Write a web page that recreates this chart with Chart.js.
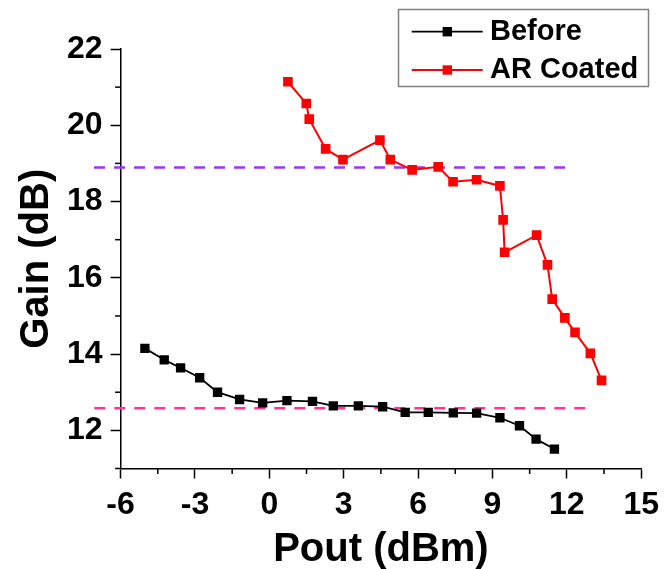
<!DOCTYPE html>
<html><head><meta charset="utf-8">
<script src="https://cdn.jsdelivr.net/npm/chart.js@4.4.1/dist/chart.umd.min.js"></script>
<style>html,body{margin:0;padding:0;background:#fff;}#wrap{width:666px;height:569px;position:relative;}</style>
</head><body><div id="wrap"><canvas id="c" width="666" height="569"></canvas></div>
<script>
// ---- data ----
const beforeX = [-5.02,-4.24,-3.58,-2.81,-2.09,-1.20,-0.27,0.71,1.74,2.58,3.59,4.57,5.48,6.41,7.42,8.36,9.30,10.09,10.76,11.50];
const beforeY = [14.15,13.85,13.64,13.38,13.00,12.81,12.72,12.78,12.76,12.64,12.64,12.62,12.47,12.47,12.46,12.45,12.33,12.12,11.77,11.51];
const arX = [0.75,1.49,1.61,2.27,2.97,4.46,4.88,5.76,6.81,7.41,8.36,9.30,9.43,9.49,10.78,11.22,11.41,11.92,12.33,12.95,13.40];
const arY = [21.14,20.57,20.16,19.38,19.10,19.61,19.10,18.83,18.91,18.52,18.57,18.41,17.52,16.67,17.12,16.34,15.44,14.95,14.57,14.02,13.31];
const refUpperY = 18.89;
const refUpperX = [-7.07, 12.2];
const refLowerY = 12.58;
const refLowerX = [-7.06, 12.75];
const xTicks = [-6,-3,0,3,6,9,12,15];
const xMinor = [-4.5,-1.5,1.5,4.5,7.5,10.5,13.5];
const yTicks = [12,14,16,18,20,22];
const yMinor = [11,13,15,17,19,21];
const seriesNames = ['Before','AR Coated'];
const xTitle = 'Pout (dBm)';
const yTitle = 'Gain (dB)';

const FONT = '"Liberation Sans", Arial, sans-serif';
const pts = (xs, ys) => xs.map((v,i)=>({x:v,y:ys[i]}));
const hline = (xs, yv) => xs.map(v=>({x:v,y:yv}));

const minorTicks = {
  id:'minorTicks',
  afterDraw(chart){
    const {ctx, scales:{x,y}} = chart;
    ctx.save(); ctx.strokeStyle='#000'; ctx.lineWidth=1.5;
    xMinor.forEach(v=>{const px=x.getPixelForValue(v);ctx.beginPath();ctx.moveTo(px,x.top);ctx.lineTo(px,x.top+5.5);ctx.stroke();});
    yMinor.forEach(v=>{const py=y.getPixelForValue(v);ctx.beginPath();ctx.moveTo(y.right,py);ctx.lineTo(y.right-5.5,py);ctx.stroke();});
    ctx.restore();
  }
};

const boxLegend = {
  id:'boxLegend',
  afterDraw(chart){
    const ctx = chart.ctx;
    ctx.save();
    ctx.strokeStyle='#808080'; ctx.lineWidth=1.5;
    ctx.strokeRect(398.5,9.5,250,77);
    const rows=[31.7,70];
    [0,1].forEach(i=>{
      const ds = chart.data.datasets[i]; const yy = rows[i];
      ctx.strokeStyle = ds.borderColor; ctx.lineWidth = ds.borderWidth;
      ctx.beginPath(); ctx.moveTo(411.7,yy); ctx.lineTo(482.7,yy); ctx.stroke();
      ctx.fillStyle = ds.backgroundColor; ctx.fillRect(447.3-4.7,yy-4.7,9.4,9.4);
      ctx.fillStyle='#000'; ctx.font='bold 29px '+FONT; ctx.textBaseline='middle'; ctx.textAlign='left';
      ctx.fillText(ds.label,490,yy);
    });
    ctx.restore();
  }
};

new Chart(document.getElementById('c'), {
  type:'scatter',
  data:{datasets:[
    {label:seriesNames[0], data:pts(beforeX,beforeY), showLine:true, borderColor:'#000', backgroundColor:'#000', borderWidth:1.8, pointStyle:'rect', pointRadius:6.6, pointBorderWidth:0, pointHoverRadius:6.6},
    {label:seriesNames[1], data:pts(arX,arY), showLine:true, borderColor:'#ff0000', backgroundColor:'#ff0000', borderWidth:2, pointStyle:'rect', pointRadius:6.8, pointBorderWidth:0, pointHoverRadius:6.8},
    {label:'upper', data:hline(refUpperX,refUpperY), showLine:true, borderColor:'#9933ff', borderWidth:2.5, borderDash:[11,9], pointRadius:0, clip:false},
    {label:'lower', data:hline(refLowerX,refLowerY), showLine:true, borderColor:'#ff3399', borderWidth:2.5, borderDash:[11,9], pointRadius:0, clip:false}
  ]},
  options:{
    responsive:false, animation:false, devicePixelRatio:1,
    layout:{padding:{top:49,right:23.3,left:0,bottom:0}},
    plugins:{legend:{display:false}, tooltip:{enabled:false}},
    scales:{
      x:{type:'linear', min:-6, max:15,
        afterBuildTicks:s=>{s.ticks=xTicks.map(v=>({value:v}));},
        afterFit:s=>{s.height=100.5;},
        ticks:{color:'#000', font:{family:FONT, size:32, weight:'bold'}, padding:7, maxRotation:0, autoSkip:false},
        grid:{drawOnChartArea:false, drawTicks:true, tickLength:10, tickColor:'#000', tickWidth:1.5},
        border:{display:true, color:'#000', width:1.5},
        title:{display:true, text:xTitle, color:'#000', font:{family:FONT, size:40, weight:'bold', lineHeight:1}, padding:{top:0,bottom:-1}}
      },
      y:{type:'linear', min:11, max:22,
        afterBuildTicks:s=>{s.ticks=yTicks.map(v=>({value:v}));},
        afterFit:s=>{s.width=120.6;},
        ticks:{color:'#000', font:{family:FONT, size:32, weight:'bold'}, padding:8, autoSkip:false},
        grid:{drawOnChartArea:false, drawTicks:true, tickLength:10, tickColor:'#000', tickWidth:1.5},
        border:{display:true, color:'#000', width:1.5},
        title:{display:true, text:yTitle, color:'#000', font:{family:FONT, size:40, weight:'bold', lineHeight:1}, padding:{top:17,bottom:0}}
      }
    }
  },
  plugins:[minorTicks, boxLegend]
});
</script></body></html>
